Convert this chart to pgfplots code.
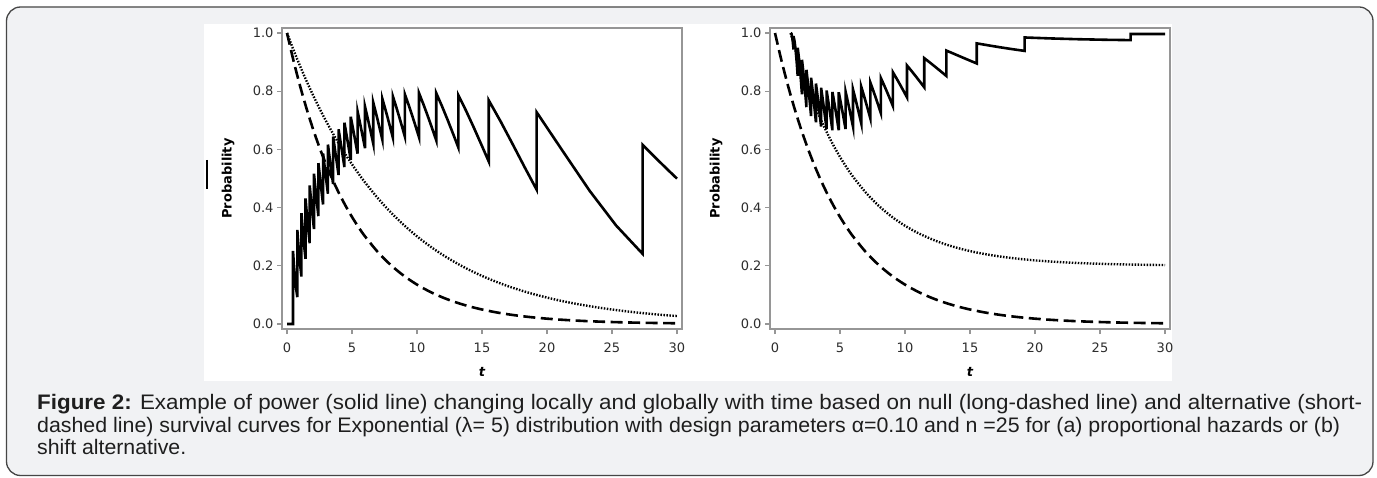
\documentclass[border=0pt]{standalone}
\usepackage{pgfplots}
\pgfplotsset{compat=1.18}
\usepackage{graphicx}
\usepackage{fontspec}
\setmainfont{DejaVu Sans}
\newfontfamily\capfont{Liberation Sans}
\definecolor{framebg}{RGB}{241,242,244}
\definecolor{framegray}{RGB}{70,70,70}
\definecolor{axisgray}{RGB}{150,150,150}
\definecolor{labgray}{RGB}{45,45,45}
\definecolor{captext}{RGB}{30,30,30}
\pgfplotsset{
  myax/.style={
    scale only axis, width=400pt, height=301pt,
    xmin=-0.385, xmax=30.385, ymin=-0.0172, ymax=1.0172,
    xtick={0,5,10,15,20,25,30}, ytick={0,0.2,0.4,0.6,0.8,1.0},
    tick align=outside, tick pos=left, major tick length=5pt,
    axis line style={draw=axisgray, line width=1.2pt},
    major tick style={draw=axisgray, line width=1.2pt},
    tick label style={font=\fontsize{13}{15}\selectfont, text=labgray},
    xticklabel style={yshift=-5pt},
    /pgf/number format/assume math mode=true,
    yticklabel style={/pgf/number format/.cd, fixed, fixed zerofill, precision=1},
    xlabel={\bfseries\itshape t},
    ylabel={\bfseries Probability},
    label style={font=\fontsize{13}{15}\selectfont, text=black},
    xlabel style={at={(axis description cs:0.5,-0.143)}, anchor=center},
    ylabel style={at={(axis description cs:-0.135,0.5)}, anchor=center},
    axis background/.style={fill=white},
  },
  solidl/.style={black, line width=2.6pt, mark=none, line join=miter},
  dashl/.style={black, line width=2.6pt, dash pattern=on 12pt off 5.5pt, mark=none, smooth},
  dotl/.style={black, line width=2.4pt, dash pattern=on 1.5pt off 1.5pt, mark=none, smooth},
}
\begin{document}
\begin{tikzpicture}[x=1pt,y=1pt]
\useasboundingbox (0,0) rectangle (1377,477);
\fill[white] (0,0) rectangle (1377,477);
\draw[rounded corners=14pt, fill=framebg, draw=framegray, line width=1.3pt] (6.5,1.5) rectangle (1373,470);
\fill[white] (204,96) rectangle (1172,453);
\draw[line width=2pt, black] (207,317) -- (207,288);

\begin{axis}[myax, at={(282pt,148pt)}, anchor=south west]
\addplot[dashl] coordinates {(0,1) (0.5,0.90484) (1,0.81873) (1.5,0.74082) (2,0.67032) (2.5,0.60653) (3,0.54881) (3.5,0.49659) (4,0.44933) (4.5,0.40657) (5,0.36788) (5.5,0.33287) (6,0.30119) (7,0.24660) (8,0.20190) (9,0.16530) (10,0.13534) (11,0.11080) (12,0.09072) (13,0.07427) (14,0.06081) (15,0.04979) (16,0.04076) (17,0.03337) (18,0.02732) (19,0.02237) (20,0.01832) (21,0.01500) (22,0.01228) (23,0.01005) (24,0.00823) (25,0.00674) (26,0.00552) (27,0.00452) (28,0.00370) (29,0.00303) (30,0.00248)};
\addplot[dotl] coordinates {(0,1) (0.5,0.94176) (1,0.88692) (1.5,0.83527) (2,0.78663) (2.5,0.74082) (3,0.69768) (3.5,0.65705) (4,0.61878) (4.5,0.58275) (5,0.54881) (5.5,0.51685) (6,0.48675) (7,0.43171) (8,0.38289) (9,0.33960) (10,0.30119) (11,0.26714) (12,0.23693) (13,0.21014) (14,0.18637) (15,0.16530) (16,0.14661) (17,0.13003) (18,0.11533) (19,0.10228) (20,0.09072) (21,0.08046) (22,0.07136) (23,0.06329) (24,0.05613) (25,0.04979) (26,0.04416) (27,0.03916) (28,0.03474) (29,0.03081) (30,0.02732)};
\addplot[solidl] coordinates {
(0,0) (0.4605,0) (0.4605,0.2512) (0.5439,0.1956) (0.6274,0.1523) (0.7108,0.1186)
(0.7942,0.0923) (0.7942,0.3231) (0.8732,0.2740) (0.9523,0.2313) (1.0313,0.1946)
(1.1103,0.1632) (1.1103,0.3811) (1.1890,0.3358) (1.2678,0.2945) (1.3465,0.2572)
(1.4252,0.2238) (1.4252,0.4313) (1.5053,0.3888) (1.5854,0.3489) (1.6654,0.3119)
(1.7455,0.2777) (1.7455,0.4761) (1.8279,0.4357) (1.9103,0.3972) (1.9926,0.3607)
(2.0750,0.3264) (2.0750,0.5164) (2.1605,0.4779) (2.2460,0.4406) (2.3314,0.4048)
(2.4169,0.3706) (2.4169,0.5529) (2.5062,0.5161) (2.5955,0.4800) (2.6848,0.4449)
(2.7741,0.4109) (2.7741,0.5862) (2.8679,0.5508) (2.9618,0.5158) (3.0556,0.4813)
(3.1494,0.4478) (3.1494,0.6165) (3.2485,0.5823) (3.3477,0.5483) (3.4468,0.5145)
(3.5459,0.4813) (3.5459,0.6441) (3.6512,0.6110) (3.7566,0.5778) (3.8619,0.5446)
(3.9672,0.5118) (3.9672,0.6691) (4.0798,0.6370) (4.1925,0.6045) (4.3051,0.5718)
(4.4177,0.5392) (4.4177,0.6918) (4.5389,0.6604) (4.6600,0.6285) (4.7812,0.5962)
(4.9023,0.5638) (4.9023,0.7123) (5.0336,0.6815) (5.1649,0.6499) (5.2962,0.6178)
(5.4275,0.5855) (5.4275,0.7306) (5.5710,0.7001) (5.7145,0.6687) (5.8579,0.6367)
(6.0014,0.6042) (6.0014,0.7468) (6.1597,0.7164) (6.3180,0.6850) (6.4763,0.6527)
(6.6346,0.6198) (6.6346,0.7610) (6.8113,0.7303) (6.9881,0.6985) (7.1648,0.6656)
(7.3415,0.6321) (7.3415,0.7729) (7.5416,0.7417) (7.7418,0.7090) (7.9419,0.6752)
(8.1420,0.6405) (8.1420,0.7826) (8.3727,0.7502) (8.6034,0.7161) (8.8341,0.6806)
(9.0648,0.6442) (9.0648,0.7896) (9.3371,0.7552) (9.6095,0.7189) (9.8818,0.6810)
(10.1541,0.6419) (10.1541,0.7935) (10.4861,0.7559) (10.8181,0.7159) (11.1501,0.6741)
(11.4821,0.6310) (11.4821,0.7932) (11.9063,0.7502) (12.3306,0.7042) (12.7548,0.6561)
(13.1790,0.6067) (13.1790,0.7865) (13.7630,0.7338) (14.3470,0.6773) (14.9310,0.6185)
(15.5151,0.5588) (15.5151,0.7689) (16.4373,0.6957) (17.3594,0.6178) (18.2816,0.5387)
(19.2037,0.4616) (19.2037,0.7278) (21.2420,0.5921) (23.2803,0.4577) (25.3185,0.3384)
(27.3568,0.2410) (27.3568,0.6156) (28.0176,0.5860) (28.6784,0.5567) (29.3392,0.5279)
(30,0.4997)};
\end{axis}

\begin{axis}[myax, at={(770pt,148pt)}, anchor=south west]
\addplot[dashl] coordinates {(0,1) (0.5,0.90484) (1,0.81873) (1.5,0.74082) (2,0.67032) (2.5,0.60653) (3,0.54881) (3.5,0.49659) (4,0.44933) (4.5,0.40657) (5,0.36788) (5.5,0.33287) (6,0.30119) (7,0.24660) (8,0.20190) (9,0.16530) (10,0.13534) (11,0.11080) (12,0.09072) (13,0.07427) (14,0.06081) (15,0.04979) (16,0.04076) (17,0.03337) (18,0.02732) (19,0.02237) (20,0.01832) (21,0.01500) (22,0.01228) (23,0.01005) (24,0.00823) (25,0.00674) (26,0.00552) (27,0.00452) (28,0.00370) (29,0.00303) (30,0.00248)};
\addplot[dotl] coordinates {(1.2,1.0) (1.5,0.9534) (2,0.8817) (2.5,0.8168) (3,0.7581) (3.5,0.7050) (4,0.6570) (4.5,0.6135) (5,0.5741) (5.5,0.5385) (6,0.5063) (7,0.4508) (8,0.4053) (9,0.3681) (10,0.3376) (11,0.3127) (12,0.2923) (13,0.2755) (14,0.2618) (15,0.2506) (16,0.2415) (17,0.2339) (18,0.2278) (19,0.2228) (20,0.2186) (21,0.2153) (22,0.2125) (23,0.2102) (24,0.2084) (25,0.2069) (26,0.2056) (27,0.2046) (28,0.2038) (29,0.2031) (30,0.2025)};
\addplot[solidl] coordinates {
(1.2,1.0) (1.2678,0.9976) (1.3465,0.9806)
(1.4252,0.9435) (1.4252,0.9892) (1.5053,0.9713) (1.5854,0.9422) (1.6654,0.9022)
(1.7455,0.8526) (1.7455,0.9491) (1.8279,0.9192) (1.9103,0.8818) (1.9926,0.8380)
(2.0750,0.7890) (2.0750,0.9078) (2.1605,0.8738) (2.2460,0.8348) (2.3314,0.7915)
(2.4169,0.7451) (2.4169,0.8734) (2.5062,0.8383) (2.5955,0.7997) (2.6848,0.7581)
(2.7741,0.7143) (2.7741,0.8464) (2.8679,0.8116) (2.9618,0.7741) (3.0556,0.7343)
(3.1494,0.6929) (3.1494,0.8262) (3.2485,0.7922) (3.3477,0.7559) (3.4468,0.7178)
(3.5459,0.6786) (3.5459,0.8118) (3.6512,0.7787) (3.7566,0.7437) (3.8619,0.7073)
(3.9672,0.6698) (3.9672,0.8024) (4.0798,0.7703) (4.1925,0.7366) (4.3051,0.7016)
(4.4177,0.6658) (4.4177,0.7974) (4.5389,0.7663) (4.6600,0.7339) (4.7812,0.7003)
(4.9023,0.6660) (4.9023,0.7964) (5.0336,0.7665) (5.1649,0.7352) (5.2962,0.7030)
(5.4275,0.6700) (5.4275,0.7992) (5.5710,0.7704) (5.7145,0.7404) (5.8579,0.7094)
(6.0014,0.6779) (6.0014,0.8056) (6.1597,0.7780) (6.3180,0.7493) (6.4763,0.7197)
(6.6346,0.6895) (6.6346,0.8154) (6.8113,0.7893) (6.9881,0.7620) (7.1648,0.7339)
(7.3415,0.7052) (7.3415,0.8287) (7.5416,0.8041) (7.7418,0.7785) (7.9419,0.7521)
(8.1420,0.7250) (8.1420,0.8454) (8.3727,0.8227) (8.6034,0.7990) (8.8341,0.7745)
(9.0648,0.7495) (9.0648,0.8654) (9.3371,0.8449) (9.6095,0.8234) (9.8818,0.8014)
(10.1541,0.7789) (10.1541,0.8883) (10.4861,0.8704) (10.8181,0.8518) (11.1501,0.8327)
(11.4821,0.8133) (11.4821,0.9135) (11.9063,0.8988) (12.3306,0.8836) (12.7548,0.8681)
(13.1790,0.8525) (13.1790,0.9396) (13.7630,0.9286) (14.3470,0.9174) (14.9310,0.9063)
(15.5151,0.8954) (15.5151,0.9644) (16.4373,0.9574) (17.3594,0.9506) (18.2816,0.9443)
(19.2037,0.9385) (19.2037,0.9846) (21.2420,0.9813) (23.2803,0.9787) (25.3185,0.9768)
(27.3568,0.9755) (27.3568,0.9967) (28.0176,0.9966) (28.6784,0.9966) (29.3392,0.9965)
(30,0.9965)};
\end{axis}

\node[anchor=base west, inner sep=0pt, text=captext] at (37,67) {\resizebox{1325pt}{\height}{\capfont\fontsize{21}{23}\selectfont\textbf{Figure 2:} Example of power (solid line) changing locally and globally with time based on null (long-dashed line) and alternative (short-}};
\node[anchor=base west, inner sep=0pt, text=captext] at (37,45) {\resizebox{1303pt}{\height}{\capfont\fontsize{21}{23}\selectfont dashed line) survival curves for Exponential (λ= 5) distribution with design parameters α=0.10 and n =25 for (a) proportional hazards or (b)}};
\node[anchor=base west, inner sep=0pt, text=captext] at (37,23) {\resizebox{149pt}{\height}{\capfont\fontsize{21}{23}\selectfont shift alternative.}};
\end{tikzpicture}
\end{document}
